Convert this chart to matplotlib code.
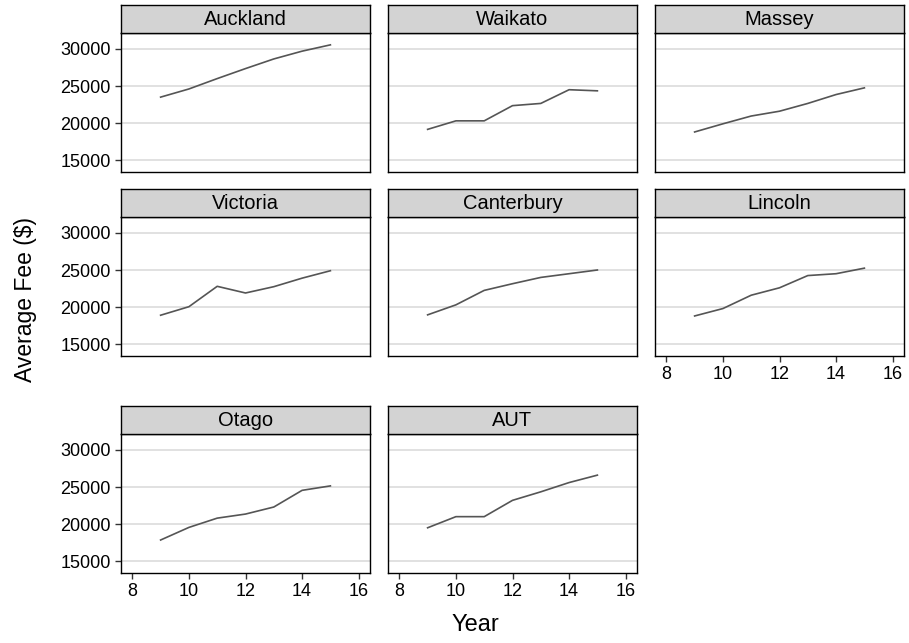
import matplotlib.pyplot as plt
from matplotlib.ticker import FixedLocator

plt.rcParams['font.family'] = ['Liberation Sans', 'DejaVu Sans']

# Average fee per university, years 2009-2015 (shown as 9..15)
years = [9, 10, 11, 12, 13, 14, 15]
universities = ['Auckland', 'Waikato', 'Massey', 'Victoria', 'Canterbury',
                'Lincoln', 'Otago', 'AUT']
auckland = [23500, 24600, 26000, 27350, 28650, 29700, 30550]
waikato = [19150, 20300, 20300, 22350, 22650, 24500, 24350]
massey = [18800, 19900, 20950, 21600, 22650, 23850, 24750]
victoria = [18900, 20050, 22800, 21900, 22750, 23900, 24900]
canterbury = [18950, 20300, 22250, 23150, 24000, 24500, 25000]
lincoln = [18800, 19800, 21600, 22600, 24250, 24500, 25250]
otago = [17850, 19550, 20800, 21350, 22300, 24550, 25150]
aut = [19500, 21000, 21000, 23200, 24350, 25600, 26600]
fees = [auckland, waikato, massey, victoria, canterbury, lincoln, otago, aut]

yticks = [15000, 20000, 25000, 30000]
xticks = [8, 10, 12, 14, 16]

W, H = 909, 643
fig = plt.figure(figsize=(W / 100, H / 100), dpi=100)

col_x = [121, 388, 655]
row_top = [33, 217, 434]   # top of plot area (pixels from top)
pw, ph, sh = 249, 139, 28

for i, (name, vals) in enumerate(zip(universities, fees)):
    r, c = divmod(i, 3)
    x0 = col_x[c]
    y0 = row_top[r]
    ax = fig.add_axes([x0 / W, 1 - (y0 + ph) / H, pw / W, ph / H])
    st = fig.add_axes([x0 / W, 1 - y0 / H, pw / W, sh / H])

    ax.plot(years, vals, color='#555555', lw=1.2)
    ax.set_xlim(7.6, 16.4)
    ax.set_ylim(13400, 32150)
    ax.yaxis.set_major_locator(FixedLocator(yticks))
    ax.xaxis.set_major_locator(FixedLocator(xticks))
    ax.grid(axis='y', color='#dedede', lw=1.3)
    ax.set_axisbelow(True)
    for s in ax.spines.values():
        s.set_linewidth(1.0)
    ax.tick_params(labelsize=13, length=4.5, width=1.0, pad=3,
                   color='#333333')

    show_y = c == 0
    show_x = (r == 2) or (r == 1 and c == 2)
    ax.tick_params(axis='y', left=show_y, labelleft=show_y)
    ax.tick_params(axis='x', bottom=show_x, labelbottom=show_x)

    st.set_facecolor('#d3d3d3')
    st.set_xticks([])
    st.set_yticks([])
    for s in st.spines.values():
        s.set_linewidth(1.0)
    st.text(0.5, 0.47, name, ha='center', va='center', fontsize=14.5,
            transform=st.transAxes)

fig.text(475 / W, 1 - 625 / H, 'Year', ha='center', va='center', fontsize=17)
fig.text(26 / W, 1 - 300 / H, 'Average Fee ($)', ha='center', va='center',
         rotation=90, fontsize=16.5)

fig.savefig('out.png', dpi=100)
